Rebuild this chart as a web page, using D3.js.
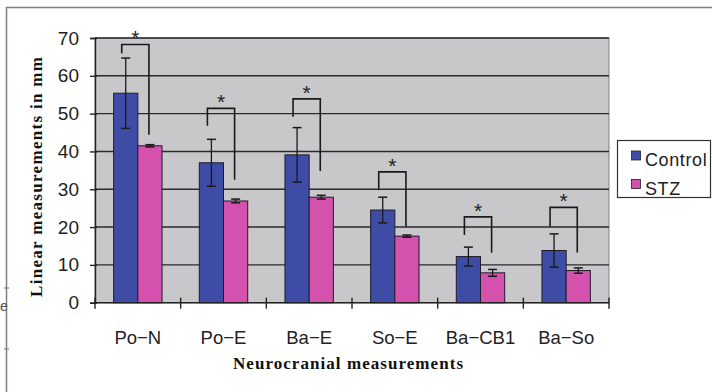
<!DOCTYPE html>
<html>
<head>
<meta charset="utf-8">
<script src="https://cdn.jsdelivr.net/npm/d3@7"></script>
<style>
  html, body { margin: 0; padding: 0; background: #fff; }
  svg { display: block; }
</style>
</head>
<body>
<svg id="chart" width="712" height="392"></svg>
<script>
// Neurocranial linear measurements (mm), Control vs STZ
const categories = ["Po\u2212N", "Po\u2212E", "Ba\u2212E", "So\u2212E", "Ba\u2212CB1", "Ba\u2212So"];
const seriesNames = ["Control", "STZ"];
const controlMean = [55.4, 37.0, 39.1, 24.5, 12.2, 13.8];
const controlErr  = [9.3, 6.2, 7.2, 3.4, 2.5, 4.4];
const stzMean     = [41.5, 26.9, 27.9, 17.6, 7.9, 8.5];
const stzErr      = [0.3, 0.5, 0.5, 0.3, 0.9, 0.7];
const yTicks      = [0, 10, 20, 30, 40, 50, 60, 70];
// significance brackets: top of bracket, end of Control leg, end of STZ leg
const bracketTop   = [68.3, 51.4, 53.9, 34.6, 22.7, 25.2];
const bracketLeft  = [66.0, 46.8, 49.2, 29.8, 17.9, 20.1];
const bracketRight = [44.4, 32.5, 34.8, 20.1, 13.2, 13.3];

const colors = { Control: "#3f4ca6", STZ: "#d452ae" };

const svg = d3.select("#chart");

// outer frame
svg.append("rect")
  .attr("x", 6.5).attr("y", 7.5).attr("width", 720).attr("height", 400)
  .attr("fill", "none").attr("stroke", "#7a7f88").attr("stroke-width", 1.5);

const plotL = 95, plotR = 609, plotT = 38, plotB = 302.7;

const x0 = d3.scaleBand().domain(categories).range([plotL, plotR]).padding(0);
const x1 = d3.scaleBand().domain(seriesNames).range([0, x0.bandwidth()])
  .paddingInner(0).paddingOuter(0.77);
const y = d3.scaleLinear().domain([0, 70]).range([plotB, plotT]);

// plot background
svg.append("rect")
  .attr("x", plotL).attr("y", plotT)
  .attr("width", plotR - plotL).attr("height", plotB - plotT)
  .attr("fill", "#c8c8ca").attr("stroke", "#808080").attr("stroke-width", 1);

// horizontal gridlines
svg.append("g").selectAll("line")
  .data(yTicks.filter(t => t > 0))
  .join("line")
  .attr("x1", plotL).attr("x2", plotR)
  .attr("y1", d => y(d)).attr("y2", d => y(d))
  .attr("stroke", "#2a2a2a").attr("stroke-width", 1.4);

const rows = categories.map((c, i) => ({
  cat: c,
  vals: [
    { s: "Control", m: controlMean[i], e: controlErr[i] },
    { s: "STZ", m: stzMean[i], e: stzErr[i] }
  ]
}));

const groups = svg.append("g").selectAll("g")
  .data(rows).join("g")
  .attr("transform", d => `translate(${x0(d.cat)},0)`);

groups.selectAll("rect")
  .data(d => d.vals).join("rect")
  .attr("x", d => x1(d.s))
  .attr("y", d => y(d.m))
  .attr("width", x1.bandwidth())
  .attr("height", d => y(0) - y(d.m))
  .attr("fill", d => colors[d.s])
  .attr("stroke", "#1d1d2a").attr("stroke-width", 1);

// error bars
const eb = groups.selectAll("g.err")
  .data(d => d.vals).join("g").attr("class", "err");
eb.append("line")
  .attr("x1", d => x1(d.s) + x1.bandwidth() / 2)
  .attr("x2", d => x1(d.s) + x1.bandwidth() / 2)
  .attr("y1", d => y(d.m + d.e)).attr("y2", d => y(d.m - d.e))
  .attr("stroke", "#1a1a1a").attr("stroke-width", 1.3);
eb.selectAll("line.cap")
  .data(d => [d.m + d.e, d.m - d.e].map(v => ({ s: d.s, v })))
  .join("line").attr("class", "cap")
  .attr("x1", d => x1(d.s) + x1.bandwidth() / 2 - 4.5)
  .attr("x2", d => x1(d.s) + x1.bandwidth() / 2 + 4.5)
  .attr("y1", d => y(d.v)).attr("y2", d => y(d.v))
  .attr("stroke", "#1a1a1a").attr("stroke-width", 1.5);

// y axis
const yAxis = d3.axisLeft(y).tickValues(yTicks).tickSize(5).tickPadding(11)
  .tickFormat(d3.format("d"));
const ya = svg.append("g").attr("transform", `translate(${plotL},0)`).call(yAxis);
ya.select(".domain").attr("stroke", "#222").attr("stroke-width", 1.4);
ya.selectAll(".tick line").attr("stroke", "#222").attr("stroke-width", 1.4)
  .attr("x1", 2);
ya.selectAll(".tick text")
  .attr("font-family", "'Liberation Sans', Arial, sans-serif")
  .attr("font-size", 19).attr("fill", "#222");

// x axis with ticks between categories
const xa = svg.append("g").attr("transform", `translate(0,${plotB})`);
xa.append("line").attr("x1", plotL).attr("x2", plotR).attr("y1", 0).attr("y2", 0)
  .attr("stroke", "#222").attr("stroke-width", 1.4);
const bounds = categories.map(c => x0(c)).concat([x0(categories[categories.length - 1]) + x0.bandwidth()]);
xa.selectAll("line.tk").data(bounds).join("line").attr("class", "tk")
  .attr("x1", d => d).attr("x2", d => d).attr("y1", -5).attr("y2", 6)
  .attr("stroke", "#222").attr("stroke-width", 1.4);
xa.selectAll("text").data(categories).join("text")
  .attr("x", d => x0(d) + x0.bandwidth() / 2)
  .attr("y", 41)
  .attr("text-anchor", "middle")
  .attr("font-family", "'Liberation Sans', Arial, sans-serif")
  .attr("font-size", 18.5).attr("fill", "#222")
  .text(d => d);

// significance brackets
const br = svg.append("g");
categories.forEach((c, i) => {
  const xl = x0(c) + x1("Control") + x1.bandwidth() / 2 - 4;
  const xr = x0(c) + x1("STZ") + x1.bandwidth() / 2 - 1;
  br.append("path")
    .attr("d", `M${xl},${y(bracketLeft[i])}V${y(bracketTop[i])}H${xr}V${y(bracketRight[i])}`)
    .attr("fill", "none").attr("stroke", "#1a1a1a").attr("stroke-width", 1.6);
  br.append("text")
    .attr("x", (xl + xr) / 2).attr("y", y(bracketTop[i]) + 1)
    .attr("text-anchor", "middle")
    .attr("font-family", "'Liberation Sans', Arial, sans-serif")
    .attr("font-size", 21).attr("fill", "#222")
    .text("*");
});

// axis titles
svg.append("text")
  .attr("transform", "translate(42,177) rotate(-90)")
  .attr("text-anchor", "middle")
  .attr("font-family", "'Liberation Serif', 'Times New Roman', serif")
  .attr("font-weight", "bold").attr("font-size", 17).attr("fill", "#111")
  .attr("textLength", 240).attr("lengthAdjust", "spacing")
  .text("Linear measurements in mm");

svg.append("text")
  .attr("x", 348).attr("y", 369)
  .attr("text-anchor", "middle")
  .attr("font-family", "'Liberation Serif', 'Times New Roman', serif")
  .attr("font-weight", "bold").attr("font-size", 17).attr("fill", "#111")
  .attr("textLength", 230).attr("lengthAdjust", "spacing")
  .text("Neurocranial measurements");

// legend
const lg = svg.append("g");
lg.append("rect").attr("x", 617.5).attr("y", 140.5).attr("width", 93).attr("height", 57)
  .attr("fill", "#fff").attr("stroke", "#333").attr("stroke-width", 1.2);
seriesNames.forEach((s, i) => {
  lg.append("rect").attr("x", 631.5).attr("y", 151 + i * 28.5).attr("width", 9).attr("height", 9)
    .attr("fill", colors[s]).attr("stroke", "#222").attr("stroke-width", 0.8);
  lg.append("text").attr("x", 645).attr("y", 166 + i * 28.5)
    .attr("font-family", "'Liberation Sans', Arial, sans-serif")
    .attr("font-size", 18).attr("letter-spacing", 0.6).attr("fill", "#222")
    .text(s);
});

// stray glyph at the left margin
svg.append("text").attr("x", 0).attr("y", 311)
  .attr("font-family", "'Liberation Sans', Arial, sans-serif")
  .attr("font-size", 14).attr("fill", "#555").text("e");
svg.append("g").selectAll("line").data([288, 349]).join("line")
  .attr("x1", 4).attr("x2", 9).attr("y1", d => d).attr("y2", d => d)
  .attr("stroke", "#7a8aa0").attr("stroke-width", 1.2);
</script>
</body>
</html>
